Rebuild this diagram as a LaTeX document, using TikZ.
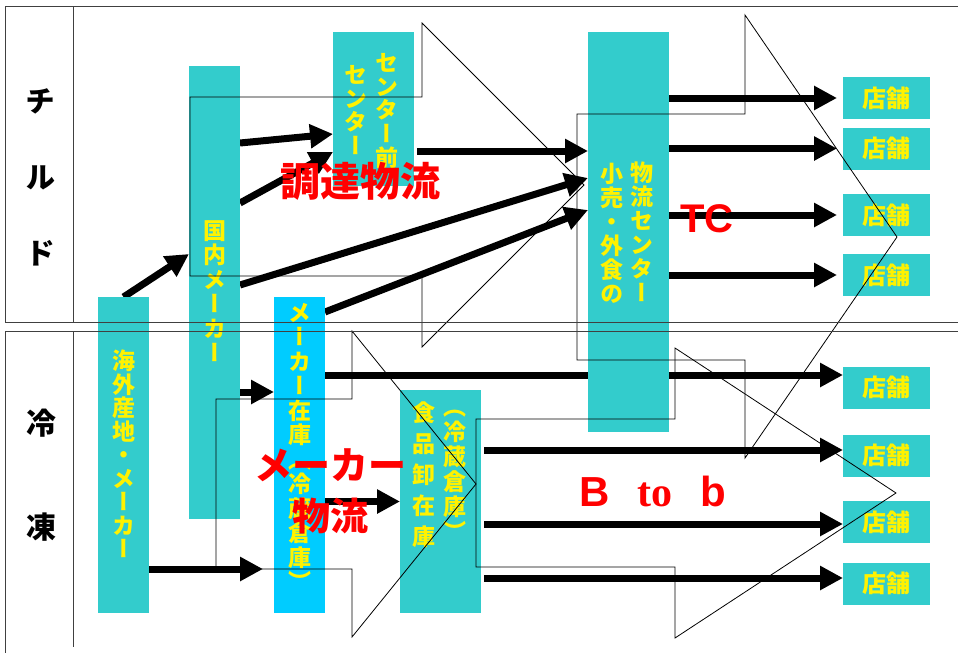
\documentclass[tikz,border=0pt]{standalone}
\usepackage{fontspec}
\usetikzlibrary{arrows.meta,backgrounds}
\setmainfont{Liberation Sans}
\newfontfamily\tms{Liberation Serif}
\newfontfamily\jp{Noto Sans CJK JP}
\newfontfamily\jpv[RawFeature=+vert]{Noto Sans CJK JP}
\definecolor{boxteal}{HTML}{33CCCC}
\definecolor{boxsky}{HTML}{00CCFF}

\begin{document}
\begin{tikzpicture}[x=1pt, y=-1pt]
\tikzset{box/.style={fill=boxteal, inner sep=0pt, outer sep=0pt}}
\tikzset{tenpo/.style={box, minimum width=87pt, minimum height=42pt, text=yellow,
  font=\jp\bfseries\fontsize{24}{24}\selectfont}}
\tikzset{vtext/.style={text=yellow, align=center, inner sep=0pt,
  font=\jpv\bfseries\fontsize{23}{#1}\selectfont}}
\tikzset{flow/.style={line width=7pt, -{Triangle[length=23pt,width=23pt]}}}
\tikzset{bigarrow/.style={draw, line width=0.8pt}}
\tikzset{frame/.style={draw=black!75, line width=1pt}}
\tikzset{redlabel/.style={text=red, inner sep=0pt, align=center,
  font=\jp\bfseries\fontsize{40}{51}\selectfont}}
\useasboundingbox (0,0) rectangle (958,653);

% boxes
\node[box, minimum width=51pt, minimum height=316pt] (kaigai) at (123.5,455) {};
\node[box, minimum width=51pt, minimum height=453pt] (kokunai) at (214.5,292.5) {};
\node[box, minimum width=81pt, minimum height=154pt] (mae) at (373.5,109) {};
\node[box, minimum width=81pt, minimum height=400pt] (tc) at (628.5,232) {};
\node[box, fill=boxsky, minimum width=51pt, minimum height=316pt] (zaiko) at (299.5,455) {};
\node[box, minimum width=81pt, minimum height=223pt] (oroshi) at (440.5,501.5) {};
\foreach \y [count=\i] in {98,148.5,215,275}
  \node[tenpo] (t\i) at (886.5,\y) {店舗};
\foreach \y [count=\i from 5] in {387.5,455.5,522,583.5}
  \node[tenpo] (t\i) at (886.5,\y) {店舗};

\node[vtext=23.5] (kaigaitxt) at (123.5,454) {海\\外\\産\\地\\・\\メ\\ー\\カ\\ー};
\node[vtext=24.5] (kokunaitxt) at (214.5,291) {国\\内\\メ\\ー\\カ\\ー};
\node[vtext=23.6] (mae1) at (387,111) {セ\\ン\\タ\\ー\\前};
\node[vtext=23.6] (mae2) at (356,110) {セ\\ン\\タ\\ー};
\node[vtext=24] (tc1) at (642,232) {物\\流\\セ\\ン\\タ\\ー};
\node[vtext=24] (tc2) at (612,233) {小\\売\\・\\外\\食\\の};
\node[vtext=24.5] (zaikotxt) at (299.5,447) {メ\\ー\\カ\\ー\\在\\庫\\（\\冷\\蔵\\倉\\庫\\）};
\node[vtext=31] (oroshi1) at (423.5,475) {食\\品\\卸\\在\\庫};
\node[vtext=25] (oroshi2) at (455,475) {（\\冷\\蔵\\倉\\庫\\）};

% flows
\coordinate (in5) at ([yshift=12.5pt]t5.west);
\coordinate (in6) at ([yshift=5.5pt]t6.west);
\coordinate (in7) at ([yshift=-2pt]t7.west);
\coordinate (in8) at ([yshift=5.5pt]t8.west);
\begin{pgfonlayer}{background}
\draw[flow] (kaigai.north) -- ([yshift=38.5pt]kokunai.west);
\draw[flow] ([yshift=149.5pt]kokunai.east) -- ([yshift=-25pt]mae.west);
\draw[flow] ([yshift=89.5pt]kokunai.east) -- ([yshift=-43pt]mae.west);
\draw[flow] ([yshift=7.5pt]kokunai.east) -- ([yshift=54pt]tc.west);
\draw[flow, shorten <=3pt] ([yshift=-42pt]mae.east) -- ([yshift=81pt]tc.west);
\draw[flow] ([yshift=143pt]zaiko.east) -- ([yshift=22pt]tc.west);
\foreach \i in {1,...,4}
  \draw[flow, shorten >=6pt] (tc.east |- t\i) -- (t\i.west);
\draw[flow] ([yshift=-99.5pt]kokunai.east) -- ([yshift=63pt]zaiko.west);
\draw[flow, shorten >=11pt] ([yshift=-114pt]kaigai.east) -- ([yshift=-114pt]zaiko.west);
\draw[flow] (zaiko.east |- in5) -- (in5);
\draw[flow] ([yshift=-46.5pt]zaiko.east) -- (oroshi.west);
\foreach \i in {6,7,8}
  \draw[flow, shorten <=3pt] (oroshi.east |- in\i) -- (in\i);
\end{pgfonlayer}

% outline arrows
\draw[bigarrow] (190,97) -- (422,97) -- (422,23) -- (584,185) -- (422,347) -- (422,276) -- (190,276) -- cycle;
\draw[bigarrow] (577,114) -- (745,114) -- (745,15) -- (897,237) -- (745,458) -- (745,360) -- (577,360) -- cycle;
\draw[bigarrow] (216,399) -- (352,399) -- (352,331) -- (476,484) -- (352,637) -- (352,569) -- (216,569) -- cycle;
\draw[bigarrow] (476,419) -- (675,419) -- (675,348) -- (896,493) -- (675,638) -- (675,567) -- (476,567) -- cycle;

% table
\draw[frame] (958,6) -- (5,6) -- (5,322) -- (958,322);
\draw[frame] (73,6) -- (73,322);
\draw[frame] (958,331) -- (5,331) -- (5,653);
\draw[frame] (73,331) -- (73,647);
\node[font=\jpv\bfseries\fontsize{30}{76}\selectfont, align=center, inner sep=0pt] (chilled) at (40,177) {チ\\ル\\ド};
\node[font=\jpv\bfseries\fontsize{30}{104}\selectfont, align=center, inner sep=0pt] (frozen) at (42,475) {冷\\凍};

\node[redlabel] (chotatsu) at (360,181) {調達物流};
\node[redlabel, font=\bfseries\fontsize{40}{40}\selectfont] (tclabel) at (707,219) {TC};
\node[redlabel, font=\jp\bfseries\fontsize{38}{51}\selectfont] (makerflow) at (330,491) {メーカー\\物流};
\node[redlabel, font=\bfseries\fontsize{42}{42}\selectfont] (btob) at (653,491) {B\hspace{28pt}{\tms to}\hspace{28pt}b};
\end{tikzpicture}
\end{document}
